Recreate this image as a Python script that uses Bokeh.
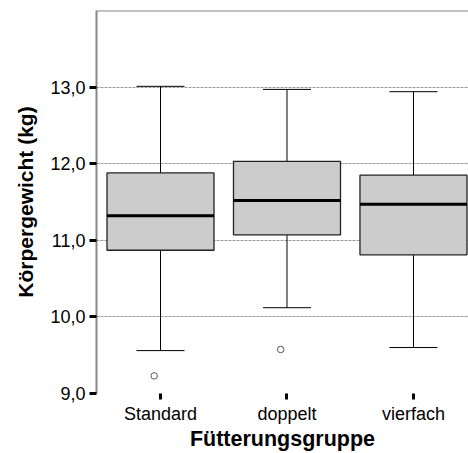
from bokeh.plotting import figure
from bokeh.models import Range1d, FixedTicker, Span, ColumnDataSource
from bokeh.transform import dodge
from bokeh.embed import file_html
from bokeh.resources import INLINE

groups = ["Standard", "doppelt", "vierfach"]
positions = [1, 2, 3]
q1 = [10.87, 11.07, 10.81]
median = [11.32, 11.52, 11.47]
q3 = [11.88, 12.03, 11.85]
lower = [9.56, 10.12, 9.60]
upper = [13.01, 12.97, 12.94]
outlier_pos = [1, 2]
outlier_val = [9.23, 9.575]
y_ticks = [9, 10, 11, 12, 13]
y_tick_labels = ["9,0", "10,0", "11,0", "12,0", "13,0"]

BOX_W = 0.846
CAP_W = 0.38

p = figure(width=468, height=453, output_backend="svg", toolbar_location=None,
           x_range=Range1d(0.494, 3.435), y_range=Range1d(9, 14),
           min_border_left=96, min_border_top=10, min_border_bottom=60, min_border_right=0)
p.outline_line_color = None
p.background_fill_color = "white"
p.border_fill_color = "white"

src = ColumnDataSource(dict(x=positions, q1=q1, med=median, q3=q3, lo=lower, hi=upper,
                            xl=[x - BOX_W / 2 for x in positions], xr=[x + BOX_W / 2 for x in positions],
                            cl=[x - CAP_W / 2 for x in positions], cr=[x + CAP_W / 2 for x in positions]))

# whiskers
p.segment(x0="x", y0="q3", x1="x", y1="hi", source=src, line_color="black", line_width=1)
p.segment(x0="x", y0="q1", x1="x", y1="lo", source=src, line_color="black", line_width=1)
p.segment(x0="cl", y0="hi", x1="cr", y1="hi", source=src, line_color="black", line_width=1)
p.segment(x0="cl", y0="lo", x1="cr", y1="lo", source=src, line_color="black", line_width=1)
# boxes
p.vbar(x="x", width=BOX_W, bottom="q1", top="q3", source=src, fill_color="#cccccc",
       line_color="#222222", line_width=1.3)
# median
p.segment(x0="xl", y0="med", x1="xr", y1="med", source=src, line_color="black", line_width=3)
# outliers
osrc = ColumnDataSource(dict(x=outlier_pos, y=outlier_val))
p.scatter(x=dodge("x", -0.05, range=p.x_range), y="y", source=osrc, marker="circle", size=6.5,
          fill_color="white", line_color="#555555", line_width=1)

# top border
p.add_layout(Span(location=14, dimension="width", line_color="#888888", line_width=2))

p.xaxis.ticker = FixedTicker(ticks=positions)
p.xaxis.major_label_overrides = {pos: g for pos, g in zip(positions, groups)}
p.yaxis.ticker = FixedTicker(ticks=y_ticks)
p.yaxis.major_label_overrides = {t: l for t, l in zip(y_ticks, y_tick_labels)}

for ax in (p.xaxis, p.yaxis):
    ax.major_label_text_font = "Liberation Sans"
    ax.major_label_text_font_size = "18px"
    ax.major_label_text_color = "black"
    ax.axis_label_text_font = "Liberation Sans"
    ax.axis_label_text_font_size = "21px"
    ax.axis_label_text_font_style = "bold"
    ax.axis_label_text_color = "black"
    ax.minor_tick_line_color = None
    ax.major_tick_line_color = "black"
    ax.major_tick_line_width = 3
    ax.major_tick_in = 0
    ax.major_tick_out = 7

p.xaxis.axis_label = "Fütterungsgruppe"
p.yaxis.axis_label = "Körpergewicht (kg)"
p.xaxis.axis_label_text_font_size = "21.5px"
p.xaxis.axis_line_color = None
p.xaxis.major_tick_out = 6
p.xaxis.major_label_standoff = 4
p.xaxis.axis_label_standoff = 0
p.yaxis.axis_line_color = "#888888"
p.yaxis.axis_line_width = 2
p.yaxis.major_label_standoff = 4
p.yaxis.axis_label_standoff = 10

p.xgrid.grid_line_color = None
p.ygrid.ticker = FixedTicker(ticks=y_ticks)
p.ygrid.grid_line_color = "#999999"
p.ygrid.grid_line_dash = "3 1"
p.ygrid.grid_line_width = 1

open("out.html", "w").write(file_html(p, INLINE))
